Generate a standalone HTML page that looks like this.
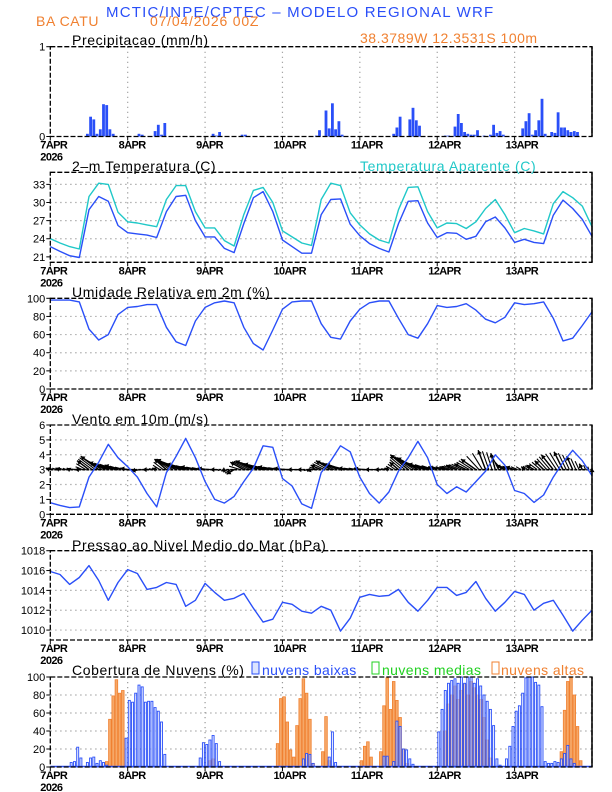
<!DOCTYPE html>
<html><head><meta charset="utf-8">
<style>
html,body{margin:0;padding:0;background:#fff;}
svg{display:block;font-family:"Liberation Sans",sans-serif;}
.tk{font-size:11px;fill:#000;}
.xl{font-size:11px;font-weight:bold;fill:#000;letter-spacing:-0.6px;}
.tt{font-size:14px;fill:#000;letter-spacing:0.6px;}
</style></head>
<body>
<svg id="c" width="612" height="792" viewBox="0 0 612 792">
<text x="106" y="17" font-size="15" fill="#2a4ff8" letter-spacing="1.2">MCTIC/INPE/CPTEC – MODELO REGIONAL WRF</text>
<text x="36" y="26" font-size="14" fill="#f08030" letter-spacing="0.6">BA CATU</text>
<text x="150" y="26" font-size="14" fill="#f08030" letter-spacing="0.8">07/04/2026 00Z</text>
<text x="360" y="43" font-size="14" fill="#f08030" letter-spacing="0.5">38.3789W 12.3531S 100m</text>
<text x="72" y="45" class="tt">Precipitacao (mm/h)</text>
<text x="72" y="171" class="tt">2–m Temperatura (C)</text>
<text x="360" y="171" class="tt" fill="#20c8c8" style="fill:#20c8c8">Temperatura Aparente (C)</text>
<text x="72" y="297" class="tt">Umidade Relativa em 2m (%)</text>
<text x="72" y="424" class="tt">Vento em 10m (m/s)</text>
<text x="72" y="550" class="tt">Pressao ao Nivel Medio do Mar (hPa)</text>
<text x="72" y="675" class="tt">Cobertura de Nuvens (%)</text>
<g>
<rect x="252" y="662" width="7" height="12" fill="#dce4ff" stroke="#2a4ff8"/>
<text x="262" y="675" font-size="14" fill="#2a4ff8" letter-spacing="0.4">nuvens baixas</text>
<rect x="372" y="662" width="7" height="12" fill="#fff" stroke="#20d020"/>
<text x="382" y="675" font-size="14" fill="#20d020" letter-spacing="0.4">nuvens medias</text>
<rect x="492" y="662" width="7" height="12" fill="#fff" stroke="#f08030"/>
<text x="501" y="675" font-size="14" fill="#f08030" letter-spacing="0.4">nuvens altas</text>
</g>
</svg>
<script>
// ---- data ----
const dayLabels=["7APR","8APR","9APR","10APR","11APR","12APR","13APR"];
const hours3=[0,3,6,9,12,15,18,21,24,27,30,33,36,39,42,45,48,51,54,57,60,63,66,69,72,75,78,81,84,87,90,93,96,99,102,105,108,111,114,117,120,123,126,129,132,135,138,141,144,147,150,153,156,159,162,165,168];
const precipHours=[11,12,13,14,15,16,17,18,19,27,28,32,33,34,35,50,51,52,59,60,82,83,85,86,87,88,89,90,106,107,108,111,112,113,114,122,123,125,126,127,128,129,130,131,132,134,136,137,138,139,140,146,147,148,149,150,151,152,153,155,156,157,158,159,160,161,162,163];
const precipValues=[0.03,0.22,0.19,0.03,0.08,0.36,0.35,0.08,0.03,0.03,0.02,0.06,0.13,0.02,0.15,0.03,0.01,0.05,0.02,0.02,0.01,0.07,0.29,0.09,0.37,0.08,0.17,0.02,0.03,0.10,0.22,0.19,0.32,0.18,0.12,0.01,0.01,0.11,0.25,0.15,0.05,0.03,0.02,0.02,0.07,0.01,0.02,0.13,0.04,0.06,0.02,0.09,0.17,0.26,0.02,0.07,0.18,0.42,0.03,0.05,0.04,0.27,0.10,0.10,0.07,0.05,0.06,0.05];
const temp2m=[22.7,21.9,21.2,20.9,28.8,31.0,30.2,26.2,25.0,24.8,24.6,24.2,28.5,31.0,31.2,27.0,24.3,24.3,22.4,21.7,26.5,30.8,31.8,28.5,23.8,22.7,21.6,21.6,28.0,30.5,30.6,26.4,24.5,23.2,22.4,21.8,26.5,30.2,30.3,26.6,24.2,25.0,24.9,23.9,24.4,26.8,27.6,25.8,23.4,23.9,23.4,23.2,27.9,30.4,29.0,27.2,24.4];
const tempApparent=[24.0,23.3,22.7,22.3,31.0,33.2,33.0,28.4,26.8,26.6,26.3,26.0,30.5,32.8,32.8,28.5,25.8,25.8,23.7,22.8,28.0,32.0,32.5,30.0,25.3,24.3,23.3,22.9,30.5,33.2,32.8,28.3,26.3,24.8,23.8,23.3,28.8,32.5,32.6,28.5,25.8,26.6,26.5,25.7,26.8,29.0,30.5,28.0,25.0,25.7,25.3,24.8,29.8,31.8,30.8,29.4,26.0];
const humidity=[98,98,98,96,66,54,60,82,90,91,93,93,68,52,48,75,90,95,97,95,68,50,43,65,88,96,97,97,72,57,55,75,88,95,97,97,78,60,56,72,92,90,91,94,87,77,73,79,95,93,94,96,78,53,56,70,85];
const windSpeed=[0.78,0.6,0.45,0.5,2.5,3.5,4.7,3.8,3.2,2.5,1.4,0.5,2.8,3.9,5.1,3.8,2.2,1.0,0.75,1.2,2.2,3.1,4.6,4.5,2.4,1.9,0.7,0.4,2.8,3.6,4.6,4.2,2.5,1.4,0.75,1.5,2.9,3.8,4.9,3.8,2.0,1.4,1.85,1.5,2.2,2.9,4.0,3.3,1.6,1.4,0.8,1.3,2.5,3.5,4.3,3.6,2.6];
const windU=[-0.3,-0.3,-0.2,-0.3,-0.8,-1.2,-1.3,-0.9,-0.5,-0.4,-0.3,-0.3,-0.8,-1.3,-1.3,-1.0,-0.5,-0.3,-0.2,-0.5,-0.9,-1.2,-1.3,-1.0,-0.6,-0.3,-0.3,-0.3,-0.7,-1.0,-1.0,-0.8,-0.4,-0.3,-0.3,-0.3,-0.6,-1.2,-1.4,-1.3,-0.6,-0.5,-0.7,-0.8,-1.0,-0.5,-0.3,-0.6,-0.6,-0.2,-0.5,-0.6,-0.8,-0.6,-0.4,-0.2,0.0];
const windV=[0.1,0.1,0.1,0.0,0.6,0.9,0.5,0.3,0.1,-0.1,0.0,0.1,0.7,0.7,0.4,0.2,0.1,0.0,-0.1,-0.3,0.5,0.6,0.4,0.2,0.1,0.0,0.0,-0.1,0.3,0.6,0.4,0.1,0.1,0.0,0.0,0.1,0.5,1.0,0.8,0.4,0.2,0.2,0.3,0.4,0.7,1.3,1.1,0.3,0.2,0.2,0.3,0.6,1.0,1.2,0.9,0.4,0.1];
const pressure=[1015.9,1015.6,1014.6,1015.3,1016.5,1015.0,1013.0,1014.8,1016.1,1015.7,1014.1,1014.3,1014.8,1014.6,1012.4,1013.0,1014.7,1013.8,1013.0,1013.2,1013.7,1012.2,1010.8,1011.1,1012.8,1012.6,1011.9,1011.7,1012.4,1012.0,1009.9,1011.2,1013.3,1013.6,1013.4,1013.5,1014.1,1012.8,1011.9,1013.0,1014.3,1014.3,1013.5,1013.8,1014.9,1013.2,1011.9,1012.8,1013.9,1013.6,1012.0,1012.7,1013.0,1011.5,1009.9,1011.0,1012.0];
const highCloudHours=[17,18,19,20,21,22,49,50,70,71,72,73,74,75,76,77,78,79,80,81,84,85,86,96,97,98,99,102,103,104,105,106,107,108,109,110,122,123,124,125,126,127,128,129,130,131,132,133,134,135,136,158,159,160,161,162,163,164];
const highCloudValues=[6,53,79,97,82,85,7,9,26,76,78,50,19,11,46,76,98,82,53,4,17,56,7,7,23,28,11,17,68,99,64,95,74,55,20,4,40,70,80,90,75,85,92,80,95,88,80,75,55,30,10,17,63,95,99,80,45,7];
const lowCloudHours=[6,7,8,9,11,12,13,14,15,16,17,23,24,25,26,27,28,29,30,31,32,33,34,35,46,47,48,49,50,51,52,78,79,80,81,86,87,88,103,104,106,107,108,109,110,111,112,120,121,122,123,124,125,126,127,128,129,130,131,132,133,134,135,136,137,138,139,141,142,143,144,145,146,147,148,149,150,151,152,153,154,155,156,157,158,159,160,161,162];
const lowCloudValues=[5,6,22,10,5,10,11,4,7,5,2,32,74,72,82,91,89,72,73,73,66,62,50,14,10,27,25,30,35,26,6,9,15,14,4,11,39,5,12,12,6,51,45,20,19,9,3,39,64,85,93,96,98,93,100,93,100,100,93,98,90,80,73,64,46,9,2,9,23,45,62,68,82,99,100,100,94,91,67,6,4,4,6,5,9,15,24,9,4];

// ---- drawing ----
const NS="http://www.w3.org/2000/svg";
const svg=document.getElementById('c');
const X0=50.3,X1=592,HMAX=168;
function xs(h){return X0+(X1-X0)*h/HMAX;}
function mk(tag,attrs,parent){const e=document.createElementNS(NS,tag);for(const k in attrs)e.setAttribute(k,attrs[k]);(parent||svg).appendChild(e);return e;}

const panels={
 precip:{top:46.7,bot:136.5,min:0,max:1,ticks:[0,1]},
 temp:{top:172.3,bot:262.3,min:20.1,max:35.0,ticks:[21,24,27,30,33]},
 rh:{top:298.3,bot:389,min:0,max:100,ticks:[0,20,40,60,80,100]},
 wind:{top:425,bot:514.3,min:0,max:6,ticks:[0,1,2,3,4,5,6]},
 pres:{top:550.7,bot:640,min:1009,max:1018,ticks:[1010,1012,1014,1016,1018]},
 cloud:{top:677,bot:767,min:0,max:100,ticks:[0,20,40,60,80,100]}
};
function ys(p,v){return p.bot-(v-p.min)/(p.max-p.min)*(p.bot-p.top);}

function frame(key){
 const p=panels[key];
 const g=mk('g',{});
 
 
 for(let d=1;d<7;d++){const l=mk('line',{x1:xs(d*24),x2:xs(d*24),y1:p.top,y2:p.bot,stroke:'#999','stroke-dasharray':'1.2,3.8','stroke-width':1.2},g);
  }
 p.ticks.forEach(t=>{
  const y=ys(p,t);
  if(y>p.top+1&&y<p.bot-1){const l=mk('line',{x1:X0,x2:X1,y1:y,y2:y,stroke:'#999','stroke-dasharray':'1.2,3.8','stroke-width':1.2},g);
   }
  mk('line',{x1:X0-4,x2:X0,y1:y,y2:y,stroke:'#000'},g);
  const tx=mk('text',{x:X0-5,y:y+4,'text-anchor':'end',class:'tk'},g);tx.textContent=t;
  
 });
 dayLabels.forEach((s,i)=>{
  const x=xs(i*24);
  mk('line',{x1:x,x2:x,y1:p.bot,y2:p.bot+4,stroke:'#000'},g);
  const tx=mk('text',{x:i==0?x-10:x-9,y:p.bot+12,class:'xl'},g);tx.textContent=s;
  
 });
 const yr=mk('text',{x:X0-10,y:p.bot+24,class:'xl'},g);yr.textContent='2026';
 
 return g;
}
function border(key){
 const p=panels[key];
 const r=mk('rect',{x:X0,y:p.top,width:X1-X0,height:p.bot-p.top,fill:'none',stroke:'#000','stroke-width':1.3,'stroke-dasharray':'5,2'});
 
 mk('line',{x1:X1,x2:X1,y1:p.top,y2:p.bot,stroke:'#000','stroke-width':1.5});
}
function line(key,vals,color,name){
 const p=panels[key];
 const d=vals.map((v,i)=>(i?'L':'M')+xs(hours3[i]).toFixed(1)+','+ys(p,v).toFixed(1)).join('');
 const e=mk('path',{d:d,fill:'none',stroke:color,'stroke-width':1.4,'stroke-linejoin':'round'});
 
 
}
function bars(key,hrs,vals,fill,stroke,name,inset,sw){
 const p=panels[key];
 const g=mk('g',{});
 
 
 hrs.forEach((h,i)=>{
  const x=xs(h)+inset,w=xs(h+1)-xs(h)-2*inset,y=ys(p,vals[i]);
  const r=mk('rect',{x:x.toFixed(1),y:y.toFixed(1),width:w.toFixed(1),height:Math.max(0,p.bot-y).toFixed(1),fill:fill,stroke:stroke,'stroke-width':sw},g);
  
  
 });
}

// precip
frame('precip');
bars('precip',precipHours,precipValues,'#2a4ff8','none','precip-bars',0.2,0);
border('precip');
// temperature
frame('temp');
line('temp',tempApparent,'#20c8c8','apparent-temp-line');
line('temp',temp2m,'#2a4ff8','temp-line');
border('temp');
// humidity
frame('rh');
line('rh',humidity,'#2a4ff8','humidity-line');
border('rh');
// wind
frame('wind');
(function(){
 const p=panels.wind,y0=ys(p,3),k=(p.bot-p.top)/6;
 const g=mk('g',{});
 
 
 // hatched envelope through arrow tips (dense arrows in reference)
 let d='';
 windU.forEach((u,i)=>{
  const x=xs(hours3[i]);
  d+=`M${x.toFixed(1)},${y0.toFixed(1)}L${(x+u*k).toFixed(1)},${(y0-windV[i]*k).toFixed(1)}`;
  if(i<windU.length-1){
   for(let s=1;s<3;s++){
    const f=s/3,xx=x+(xs(hours3[i+1])-x)*f;
    const uu=u+(windU[i+1]-u)*f,vv=windV[i]+(windV[i+1]-windV[i])*f;
    d+=`M${xx.toFixed(1)},${y0.toFixed(1)}L${(xx+uu*k).toFixed(1)},${(y0-vv*k).toFixed(1)}`;
   }
  }
 });
 const hatch=mk('path',{d:d,stroke:'#000','stroke-width':1.1,fill:'none'},g);
 
 
 mk('line',{x1:X0,x2:X1,y1:y0,y2:y0,stroke:'#000','stroke-width':1.6,'stroke-dasharray':'3,1'},g);
 windU.forEach((u,i)=>{
  const x=xs(hours3[i]),tx=x+u*k,ty=y0-windV[i]*k;
  const a=mk('line',{x1:x,y1:y0,x2:tx,y2:ty,stroke:'#000','stroke-width':1.4},g);
  
  
  const L=Math.hypot(tx-x,ty-y0)||1,ux=(tx-x)/L,uy=(ty-y0)/L;
  const hd=mk('path',{d:`M${tx},${ty}L${tx-ux*4-uy*2.5},${ty-uy*4+ux*2.5}L${tx-ux*4+uy*2.5},${ty-uy*4-ux*2.5}Z`,fill:'#000'},g);
  
  
 });
})();
line('wind',windSpeed,'#2a4ff8','wind-speed-line');
border('wind');
// pressure
frame('pres');
line('pres',pressure,'#2a4ff8','pressure-line');
border('pres');
// clouds
frame('cloud');
bars('cloud',highCloudHours,highCloudValues,'#f6a868','#f08030','high-cloud',0.3,0.8);
bars('cloud',lowCloudHours,lowCloudValues,'rgba(225,232,255,0.6)','#2a4ff8','low-cloud',0.6,0.9);
(function(){const p=panels.cloud;const l=mk('line',{x1:X0,x2:X1,y1:p.bot-0.5,y2:p.bot-0.5,stroke:'#2a4ff8','stroke-width':1.5});
 })();
border('cloud');
</script>
</body></html>
